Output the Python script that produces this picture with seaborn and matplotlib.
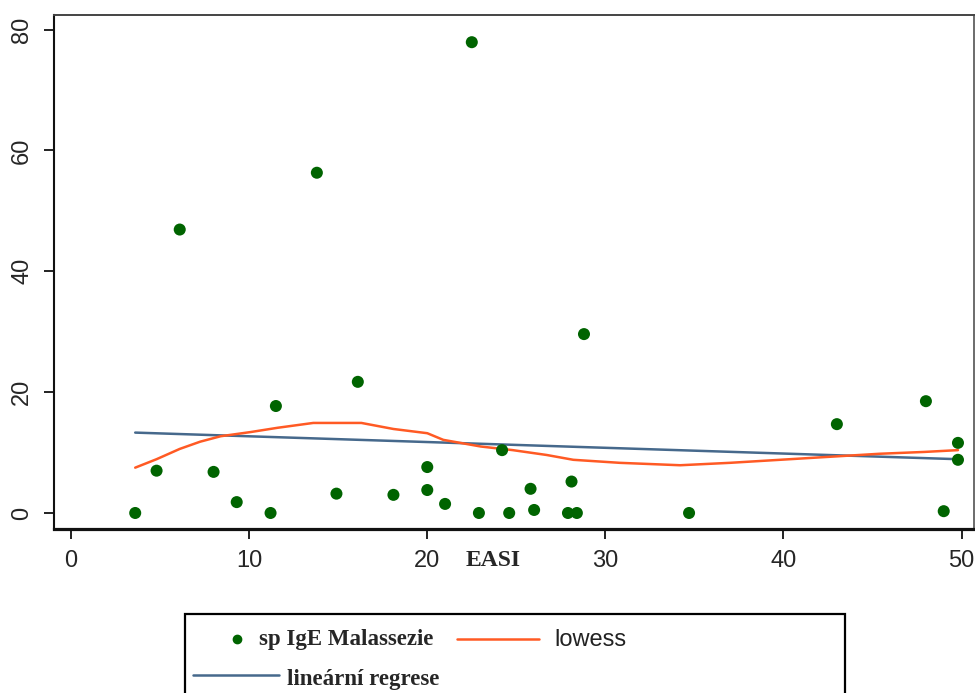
import matplotlib
matplotlib.use('Agg')
import matplotlib.pyplot as plt
import seaborn as sns
import pandas as pd
from matplotlib.lines import Line2D
from matplotlib.patches import Rectangle

# values
easi = [3.6, 4.8, 6.1, 8.0, 9.3, 11.2, 11.5, 13.8, 14.9, 16.1, 18.1, 20.0, 20.0, 21.0, 22.5,
        22.9, 24.2, 24.6, 25.8, 26.0, 27.9, 28.1, 28.4, 28.8, 34.7, 43.0, 48.0, 49.0, 49.8, 49.8]
ige_malassezie = [0, 7.0, 46.9, 6.8, 1.8, 0, 17.7, 56.3, 3.2, 21.7, 3.0, 7.6, 3.8, 1.5, 77.9,
                  0, 10.4, 0, 4.0, 0.5, 0, 5.2, 0, 29.6, 0, 14.7, 18.5, 0.3, 11.6, 8.8]

lowess_x = [3.6, 4.8, 6.1, 7.25, 8.4, 10.1, 11.6, 13.6, 16.3, 18.1, 20.0, 20.9, 23.0, 24.8,
            26.7, 28.2, 30.8, 34.2, 37.0, 39.8, 42.6, 45.4, 47.9, 49.8]
lowess_y = [7.5, 8.9, 10.6, 11.8, 12.7, 13.4, 14.1, 14.9, 14.9, 13.9, 13.2, 12.1, 11.0, 10.4,
            9.6, 8.8, 8.3, 7.9, 8.3, 8.8, 9.3, 9.8, 10.1, 10.4]

linreg_x = [3.6, 49.8]
linreg_y = [13.3, 8.9]

X_TICKS = [0, 10, 20, 30, 40, 50]
Y_TICKS = [0, 20, 40, 60, 80]

GREEN = '#006400'
ORANGE = '#ff5a24'
BLUE = '#46698c'
SERIF = ['Liberation Serif', 'DejaVu Serif']
SANS = ['Liberation Sans', 'DejaVu Sans']

sns.set_style('ticks')
plt.rcParams['font.family'] = SANS

df = pd.DataFrame({'EASI': easi, 'IgE': ige_malassezie})
df_low = pd.DataFrame({'x': lowess_x, 'y': lowess_y})
df_lin = pd.DataFrame({'x': linreg_x, 'y': linreg_y})

W, H = 975, 693
fig = plt.figure(figsize=(W / 100, H / 100), dpi=100)
ax = fig.add_axes([54 / W, 1 - 529 / H, 920 / W, 514 / H])

sns.lineplot(data=df_lin, x='x', y='y', color=BLUE, lw=1.8, ax=ax, sort=False, estimator=None)
sns.lineplot(data=df_low, x='x', y='y', color=ORANGE, lw=1.8, ax=ax, sort=False, estimator=None)
sns.scatterplot(data=df, x='EASI', y='IgE', color=GREEN, s=75, edgecolor='none', ax=ax, zorder=3)

ax.set_xlim(-0.96, 50.7)
ax.set_ylim(-2.65, 82.4)
ax.set_xticks(X_TICKS)
ax.set_yticks(Y_TICKS)
ax.set_xlabel('')
ax.set_ylabel('')
ax.tick_params(axis='both', length=7, width=1.4, labelsize=17, color='#222222', pad=8)
for lab in ax.get_yticklabels():
    lab.set_rotation(90)
    lab.set_va('center')

ax.spines['left'].set_linewidth(1.5)
ax.spines['bottom'].set_linewidth(2.3)
ax.spines['top'].set_linewidth(1.4)
ax.spines['right'].set_linewidth(1.1)
for side in ['left', 'bottom']:
    ax.spines[side].set_color('#111111')
for side in ['top', 'right']:
    ax.spines[side].set_color('#444444')

ax.text((493 - 54) / 920, (529 - 561) / 514, 'EASI', transform=ax.transAxes, ha='center',
        va='center', fontsize=17, fontweight='bold', family=SERIF)


# legend drawn by hand, Stata style
def fx(px):
    return px / W


def fy(py):
    return 1 - py / H


fig.add_artist(Rectangle((fx(185), fy(700)), fx(845) - fx(185), fy(614) - fy(700),
                         transform=fig.transFigure, fill=False, edgecolor='black', lw=1.6))
fig.add_artist(Line2D([fx(237)], [fy(639)], marker='o', color=GREEN, markersize=6,
                      transform=fig.transFigure))
fig.text(fx(259), fy(639), 'sp IgE Malassezie', fontsize=16.5, fontweight='bold',
         family=SERIF, va='center')
fig.add_artist(Line2D([fx(457), fx(539)], [fy(639), fy(639)], color=ORANGE, lw=1.8,
                      transform=fig.transFigure))
fig.text(fx(554), fy(640), 'lowess', fontsize=17, family=SANS, va='center', color='#222222')
fig.add_artist(Line2D([fx(193), fx(279)], [fy(675), fy(675)], color=BLUE, lw=1.8,
                      transform=fig.transFigure))
fig.text(fx(287), fy(679), 'lineární regrese', fontsize=16.5, fontweight='bold',
         family=SERIF, va='center')

plt.savefig('out.png', dpi=100)
